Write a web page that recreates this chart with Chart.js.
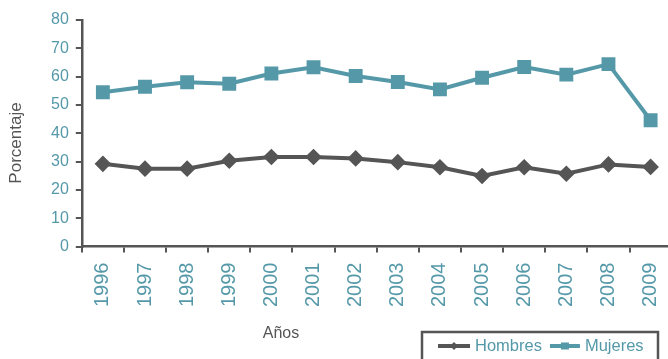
<!DOCTYPE html>
<html>
<head>
<meta charset="utf-8">
<script src="https://cdn.jsdelivr.net/npm/chart.js@4"></script>
<style>
  body { margin: 0; overflow: hidden; background: #fff; }
  #wrap { width: 685px; height: 359px; }
</style>
</head>
<body>
<div id="wrap"><canvas id="chart"></canvas></div>
<script>
var years = ['1996', '1997', '1998', '1999', '2000', '2001', '2002', '2003', '2004', '2005', '2006', '2007', '2008', '2009'];
var hombres = [29.2, 27.5, 27.5, 30.3, 31.6, 31.6, 31.1, 29.8, 28.0, 24.9, 28.0, 25.7, 29.0, 28.1];
var mujeres = [54.5, 56.4, 58.0, 57.5, 61.1, 63.3, 60.2, 58.1, 55.5, 59.6, 63.4, 60.7, 64.4, 44.6];
var yTicks = [0, 10, 20, 30, 40, 50, 60, 70, 80];

var teal = '#5599a9';
var dark = '#555555';
var font = '"Liberation Sans", Arial, sans-serif';

// axis titles sit off-centre and the legend is framed, so they are drawn by hand
var extras = {
    id: 'extras',
    afterDraw: function (chart) {
        var c = chart.ctx;
        c.save();
        c.fillStyle = dark;
        c.textAlign = 'center';
        c.textBaseline = 'middle';
        c.font = '16px ' + font;
        c.fillText('Años', 281, 334);

        c.save();
        c.translate(16, 143);
        c.rotate(-Math.PI / 2);
        c.font = '17px ' + font;
        c.fillText('Porcentaje', 0, 0);
        c.restore();

        c.strokeStyle = '#555';
        c.lineWidth = 2.5;
        c.strokeRect(422, 332, 236, 40);
        var x = 438;
        var y = 346;
        c.textAlign = 'left';
        c.font = '16.5px ' + font;
        chart.data.datasets.forEach(function (ds) {
            var len = ds.pointStyle === 'rectRot' ? 32 : 30;
            c.strokeStyle = ds.borderColor;
            c.lineWidth = 4;
            c.beginPath();
            c.moveTo(x, y);
            c.lineTo(x + len, y);
            c.stroke();
            c.fillStyle = ds.borderColor;
            var m = x + len / 2;
            c.beginPath();
            if (ds.pointStyle === 'rectRot') {
                c.moveTo(m, y - 4);
                c.lineTo(m + 4, y);
                c.lineTo(m, y + 4);
                c.lineTo(m - 4, y);
            } else {
                c.rect(m - 4, y - 3.5, 8, 7);
            }
            c.fill();
            c.fillStyle = teal;
            c.fillText(ds.label, x + len + 5, y);
            x += len + 5 + c.measureText(ds.label).width + 8;
        });
        c.restore();
    }
};

new Chart(document.getElementById('chart'), {
    type: 'line',
    data: {
        labels: years,
        datasets: [{
            label: 'Hombres',
            data: hombres,
            borderColor: dark,
            backgroundColor: dark,
            borderWidth: 4,
            pointStyle: 'rectRot',
            pointRadius: 5.5,
            tension: 0
        }, {
            label: 'Mujeres',
            data: mujeres,
            borderColor: teal,
            backgroundColor: teal,
            borderWidth: 4,
            pointStyle: 'rect',
            pointRadius: 7,
            tension: 0
        }]
    },
    options: {
        responsive: true,
        maintainAspectRatio: false,
        animation: false,
        layout: { padding: { top: 20, right: 0, bottom: 42, left: 44 } },
        plugins: {
            legend: { display: false },
            tooltip: { enabled: false }
        },
        scales: {
            x: {
                offset: true,
                grid: { display: true, offset: true, drawOnChartArea: false, drawTicks: true, tickLength: 6, color: dark, lineWidth: 2 },
                border: { color: dark, width: 2.5 },
                ticks: { color: teal, font: { family: font, size: 20 }, minRotation: 90, maxRotation: 90, padding: 10, autoSkip: false }
            },
            y: {
                min: 0,
                max: 80,
                afterBuildTicks: function (axis) {
                    axis.ticks = yTicks.map(function (v) { return { value: v }; });
                },
                grid: { display: true, drawOnChartArea: false, drawTicks: true, tickLength: 6, color: dark, lineWidth: 2 },
                border: { color: dark, width: 2.5 },
                ticks: { color: teal, font: { family: font, size: 16 }, padding: 7 }
            }
        }
    },
    plugins: [extras]
});
</script>
</body>
</html>
